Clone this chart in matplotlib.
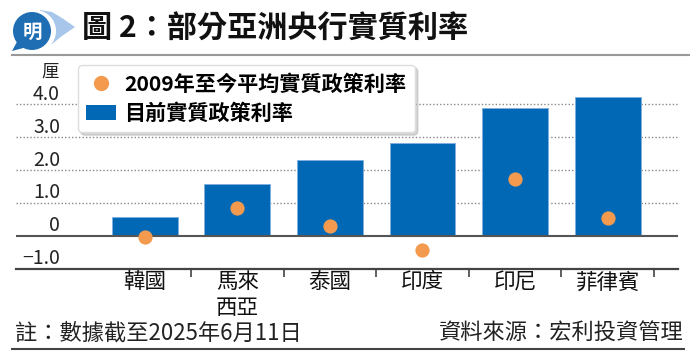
import matplotlib
matplotlib.use("Agg")
import matplotlib.pyplot as plt
from matplotlib.patches import Circle, Polygon, Patch
from matplotlib.lines import Line2D
from matplotlib.transforms import ScaledTranslation

plt.rcParams['font.family'] = ['Noto Sans CJK TC', 'DejaVu Sans']

# ---- data ----
categories = ['韓國', '馬來\n西亞', '泰國', '印度', '印尼', '菲律賓']
current_rate = [0.58, 1.57, 2.30, 2.83, 3.89, 4.22]
avg_since_2009 = [-0.05, 0.83, 0.30, -0.43, 1.72, 0.53]
ytick_values = [-1, 0, 1, 2, 3, 4]
ytick_labels = ['−1.0', '0', '1.0', '2.0', '3.0', '4.0']
legend_labels = ['2009年至今平均實質政策利率', '目前實質政策利率']
title = '圖 2：部分亞洲央行實質利率'
unit = '厘'
note = '註：數據截至2025年6月11日'
source = '資料來源：宏利投資管理'

BLUE = '#0068b4'
ORANGE = '#f39a4e'
W, H = 700, 364

fig = plt.figure(figsize=(W / 100, H / 100), dpi=100)

# overlay in pixel coords for decorations
deco = fig.add_axes([0, 0, 1, 1], zorder=0)
deco.set_xlim(0, W)
deco.set_ylim(H, 0)
deco.axis('off')

# logo
deco.add_patch(Polygon([(40, 10), (52, 12), (62, 18), (75, 27), (62, 36), (52, 44), (40, 48)],
                       closed=True, color='#a8c6ea', lw=0))
deco.add_patch(Circle((35, 31), 21, color='white', lw=0))
deco.add_patch(Circle((32, 31), 19, color='#1f6db3', lw=0))
deco.add_patch(Polygon([(18, 40), (12, 51), (27, 47)], closed=True, color='#1f6db3', lw=0))
deco.text(32, 32, '明', color='white', fontsize=14, fontweight='bold', ha='center', va='center')

# title
deco.text(82, 29, title, fontsize=21.7, fontweight='bold', ha='left', va='center', color='#111')
deco.plot([11, 690], [55, 55], color='#999999', lw=1.5, solid_capstyle='butt')

# unit
deco.text(50, 72, unit, fontsize=12.5, ha='center', va='center', color='#222')

# notes
deco.text(15, 333, note, fontsize=16, ha='left', va='center', color='#222')
deco.text(684, 333, source, fontsize=16, ha='right', va='center', color='#222')
deco.plot([11, 685], [349, 349], color='#444444', lw=1.5, solid_capstyle='butt')

# ---- main axes ----
y_bot, y_top = 268.5, 84.7
ax = fig.add_axes([16 / W, (H - y_bot) / H, (678 - 16) / W, (y_bot - y_top) / H], zorder=1)
ax.patch.set_alpha(0)
x = list(range(len(categories)))
ax.set_xlim(-1.39, 5.76)
ax.set_ylim(-1, 4.6)

for yv in ytick_values:
    if yv > 0:
        ax.axhline(yv, color='#888888', lw=1.0, ls=(0, (1, 1.5)), zorder=1)
ax.bar(x, current_rate, width=0.71, color=BLUE, edgecolor='#7fb0de', linewidth=0.7, zorder=2)
ax.axhline(0, color='#555555', lw=1.5, zorder=2.5)
ax.scatter(x, avg_since_2009, s=105, color=ORANGE, linewidths=0, zorder=3)

for s in ['top', 'right', 'left']:
    ax.spines[s].set_visible(False)
ax.spines['bottom'].set_color('#444444')
ax.spines['bottom'].set_linewidth(1.6)

ax.set_yticks([])
ax.set_xticks(x)
ax.set_xticklabels(categories, fontsize=15.5, color='#111')
ax.tick_params(axis='x', which='major', length=0, pad=2)
ax.set_xticks([i + 0.5 for i in x], minor=True)
ax.tick_params(axis='x', which='minor', length=6, width=1.2, color='#444444', direction='out')
for lab in ax.get_xticklabels():
    lab.set_linespacing(1.2)

ytrans = ax.get_yaxis_transform() + ScaledTranslation(0, 10 / 100, fig.dpi_scale_trans)
for yv, yl in zip(ytick_values, ytick_labels):
    ax.text((60 - 16) / (678 - 16), yv, yl, transform=ytrans, ha='right', va='center',
            fontsize=14, color='#222')

handles = [Line2D([], [], marker='o', ls='none', ms=11, color=ORANGE, markeredgewidth=0),
           Patch(facecolor=BLUE, edgecolor='none')]
leg = ax.legend(handles, legend_labels, loc='upper left',
                bbox_to_anchor=(78 / W, 1 - 65 / H), bbox_transform=fig.transFigure,
                borderaxespad=0, prop={'weight': 'bold', 'size': 15.2},
                handlelength=1.4, handleheight=0.7, handletextpad=0.4, borderpad=0.4,
                labelspacing=0.4, fancybox=True, shadow={'color': '#bbbbbb', 'alpha': 0.6},
                framealpha=1, edgecolor='#dddddd')
leg.set_zorder(5)

fig.savefig('out.png', dpi=100)
